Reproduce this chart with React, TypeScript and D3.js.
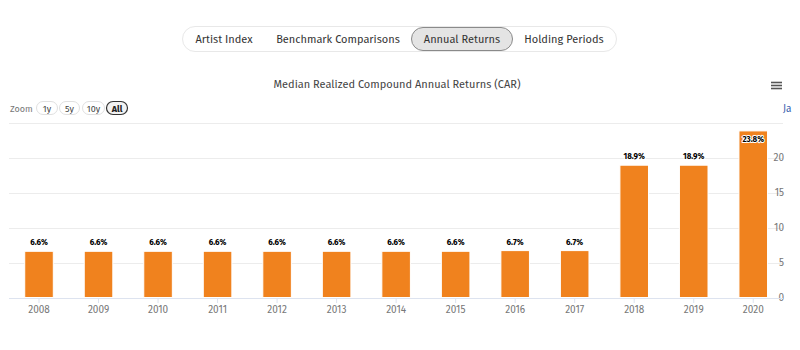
import React, { useEffect, useRef } from 'react'
import * as d3 from 'd3'

const years = ['2008', '2009', '2010', '2011', '2012', '2013', '2014', '2015', '2016', '2017', '2018', '2019', '2020']
const returns = [6.6, 6.6, 6.6, 6.6, 6.6, 6.6, 6.6, 6.6, 6.7, 6.7, 18.9, 18.9, 23.8]
const yTicks = [0, 5, 10, 15, 20, 25]
const tabs = ['Artist Index', 'Benchmark Comparisons', 'Annual Returns', 'Holding Periods']
const zoomButtons = ['1y', '5y', '10y', 'All']

const font = "'Fira Sans', 'Noto Sans', sans-serif"
const W = 800, H = 350

export default function App() {
    const ref = useRef<SVGSVGElement>(null)

    useEffect(() => {
        const svg = d3.select(ref.current)
        svg.selectAll('*').remove()
        svg.style('font-family', font)

        // tab bar
        const tabX = [224, 338, 462, 564]
        svg.append('rect')
            .attr('x', 182.5).attr('y', 26.5).attr('width', 434).attr('height', 25).attr('rx', 12.5)
            .attr('fill', '#fff').attr('stroke', '#e8e8e8')
        svg.append('rect')
            .attr('x', 411.5).attr('y', 27.5).attr('width', 101).attr('height', 23).attr('rx', 11.5)
            .attr('fill', '#e4e4e4').attr('stroke', '#8a8a8a')
        tabs.forEach((t, i) => {
            svg.append('text')
                .attr('x', tabX[i]).attr('y', 43)
                .attr('text-anchor', 'middle')
                .attr('font-size', 11).attr('fill', '#333')
                .text(t)
        })

        // title
        svg.append('text')
            .attr('x', 397).attr('y', 88)
            .attr('text-anchor', 'middle')
            .attr('font-size', 11).attr('fill', '#444')
            .text('Median Realized Compound Annual Returns (CAR)')

        // hamburger
        ;[82.5, 85.5, 88.5].forEach(y => {
            svg.append('line')
                .attr('x1', 771).attr('x2', 782).attr('y1', y).attr('y2', y)
                .attr('stroke', '#555').attr('stroke-width', 1.6)
        })

        svg.append('text')
            .attr('x', 783).attr('y', 112)
            .attr('font-size', 10).attr('fill', '#335cad')
            .text('Ja')

        // zoom buttons
        svg.append('text')
            .attr('x', 10).attr('y', 112)
            .attr('font-size', 9).attr('fill', '#777')
            .text('Zoom')
        const bx = [36, 59, 82, 106]
        const bw = [21, 20, 22, 21]
        zoomButtons.forEach((b, i) => {
            const sel = b === 'All'
            svg.append('rect')
                .attr('x', bx[i] + 0.5).attr('y', 101.5).attr('width', bw[i]).attr('height', 13).attr('rx', 6.5)
                .attr('fill', sel ? '#f2f2f2' : '#fff')
                .attr('stroke', sel ? '#333' : '#e0e0e0')
                .attr('stroke-width', sel ? 1.2 : 1)
            svg.append('text')
                .attr('x', bx[i] + bw[i] / 2 + 0.5).attr('y', 111.5)
                .attr('text-anchor', 'middle')
                .attr('font-size', 9)
                .attr('font-weight', sel ? 'bold' : 'normal')
                .attr('fill', sel ? '#222' : '#444')
                .text(b)
        })

        // chart
        const x = d3.scaleBand().domain(years).range([9.25, 783]).paddingInner(0.52).paddingOuter(0.26)
        const y = d3.scaleLinear().domain([0, 25]).range([297.5, 122.5])

        const grid = svg.append('g')
        grid.selectAll('line')
            .data(yTicks.filter(t => t > 0))
            .join('line')
            .attr('x1', 9).attr('x2', 783)
            .attr('y1', d => Math.round(y(d)) + 0.5).attr('y2', d => Math.round(y(d)) + 0.5)
            .attr('stroke', '#ececec')

        const yAxis = svg.append('g')
            .attr('transform', 'translate(784,0)')
            .call(d3.axisRight(y).tickValues(yTicks.slice(0, 5)).tickSize(0).tickPadding(-10))
        yAxis.select('.domain').remove()
        yAxis.selectAll('text')
            .attr('text-anchor', 'end')
            .attr('x', 0)
            .attr('font-family', font)
            .attr('font-size', 10)
            .attr('fill', '#777')

        const xAxis = svg.append('g')
            .attr('transform', 'translate(0,298)')
            .call(d3.axisBottom(x).tickSize(5).tickPadding(3))
        xAxis.select('.domain')
            .attr('d', 'M9,0.5H783')
            .attr('stroke', '#dde3ef')
        xAxis.selectAll('.tick line').attr('stroke', '#dde3ef')
        xAxis.selectAll('text')
            .attr('font-family', font)
            .attr('font-size', 10)
            .attr('fill', '#777')

        svg.append('g')
            .selectAll('rect')
            .data(returns)
            .join('rect')
            .attr('x', (d, i) => x(years[i])!)
            .attr('y', d => y(d))
            .attr('width', x.bandwidth())
            .attr('height', d => y(0) - y(d))
            .attr('fill', '#f0821e')
            .attr('stroke', '#fff')
            .attr('stroke-width', 1)

        const inside = (d: number) => y(d) < 140
        svg.append('g')
            .selectAll('text')
            .data(returns)
            .join('text')
            .attr('x', (d, i) => x(years[i])! + x.bandwidth() / 2)
            .attr('y', d => inside(d) ? y(d) + 11 : y(d) - 6)
            .attr('text-anchor', 'middle')
            .attr('font-size', 8)
            .attr('font-weight', 'bold')
            .attr('fill', '#000')
            .attr('stroke', '#fff')
            .attr('stroke-width', 2)
            .attr('stroke-linejoin', 'round')
            .attr('paint-order', 'stroke')
            .text(d => d.toFixed(1) + '%')
    }, [])

    return (
        <div style={{ margin: -8 }}>
            <svg ref={ref} width={W} height={H} style={{ display: 'block', background: '#fff' }} />
        </div>
    )
}
